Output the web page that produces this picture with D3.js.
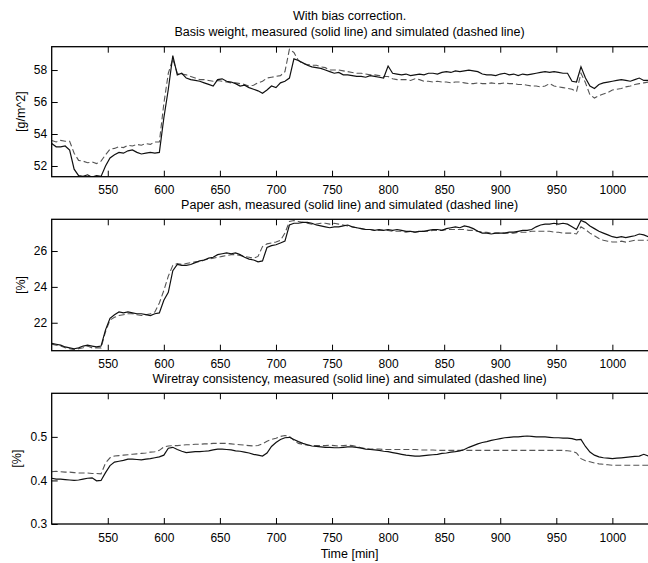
<!DOCTYPE html>
<html>
<head>
<meta charset="utf-8">
<script src="https://cdn.jsdelivr.net/npm/d3@7"></script>
<style>
  body { margin: 0; background: #fff; }
  text { font-family: "Liberation Sans", Arial, sans-serif; fill: #000; }
</style>
</head>
<body>
<div id="chart"></div>
<script>
// sample times [min], one every 4 minutes
const sampleTimes = d3.range(500, 1033, 4)
const xTicks = [550, 600, 650, 700, 750, 800, 850, 900, 950, 1000]

// basis weight [g/m^2]
const weightMeasured = [
  53.4, 53.2, 53.2, 53.25, 53.0, 51.8, 51.4, 51.35, 51.45, 51.3,
  51.4, 51.35, 52.0, 52.5, 52.7, 52.85, 52.8, 52.95, 53.0, 52.85,
  52.75, 52.8, 52.85, 52.8, 52.85, 55.0, 56.8, 58.9, 57.7, 57.8,
  57.5, 57.4, 57.35, 57.3, 57.2, 57.1, 57.0, 57.4, 57.45, 57.3,
  57.25, 57.15, 57.0, 57.05, 56.9, 56.8, 56.7, 56.55, 56.75, 57.0,
  56.9, 57.2, 57.3, 57.5, 58.7, 58.6, 58.45, 58.3, 58.2, 58.15,
  58.1, 58.0, 57.9, 57.8, 57.85, 57.7, 57.7, 57.65, 57.6, 57.6,
  57.55, 57.65, 57.6, 57.55, 57.5, 58.25, 57.8, 57.75, 57.7, 57.75,
  57.65, 57.7, 57.75, 57.7, 57.8, 57.8, 57.75, 57.85, 57.9, 57.85,
  57.95, 57.9, 57.95, 58.0, 57.95, 57.9, 57.75, 57.7, 57.7, 57.65,
  57.75, 57.8, 57.7, 57.75, 57.65, 57.75, 57.7, 57.75, 57.8, 57.85,
  57.9, 57.85, 57.9, 57.85, 57.8, 57.8, 57.3, 57.25, 58.2, 57.5,
  57.0, 56.85, 57.1, 57.2, 57.25, 57.3, 57.35, 57.4, 57.35, 57.3,
  57.4, 57.5, 57.35, 57.35
]
const weightSimulated = [
  53.6, 53.5, 53.6, 53.55, 53.55, 52.8, 52.35, 52.3, 52.2, 52.25,
  52.15, 52.3, 52.7, 53.05, 53.1, 53.2, 53.15, 53.3, 53.25, 53.35,
  53.3, 53.4, 53.35, 53.5, 53.5, 55.9, 57.8, 58.7, 57.8, 57.75,
  57.7, 57.6, 57.5, 57.4, 57.4, 57.35, 57.3, 57.35, 57.3, 57.25,
  57.2, 57.2, 57.15, 57.1, 57.0, 57.05, 57.2, 57.3, 57.5, 57.55,
  57.6, 57.65, 57.9, 59.3, 59.1, 58.6, 58.4, 58.35, 58.3, 58.3,
  58.2, 58.15, 58.0, 58.0, 58.0, 57.95, 57.9, 57.85, 57.8, 57.8,
  57.75, 57.7, 57.7, 57.65, 57.6, 57.6, 57.45, 57.4, 57.4, 57.4,
  57.35, 57.45, 57.4, 57.3, 57.3, 57.25, 57.3, 57.25, 57.25, 57.2,
  57.25, 57.25, 57.2, 57.15, 57.15, 57.2, 57.15, 57.15, 57.2, 57.15,
  57.15, 57.2, 57.15, 57.15, 57.1, 57.1, 57.05, 57.0, 57.0, 56.95,
  57.0, 57.15, 57.0, 56.95, 56.9, 56.85, 56.8, 56.65, 57.8, 57.2,
  56.45, 56.25, 56.4, 56.5, 56.6, 56.75, 56.8, 56.85, 56.95, 57.0,
  57.1, 57.15, 57.2, 57.25
]

// paper ash [%]
const ashMeasured = [
  20.85, 20.8, 20.75, 20.65, 20.6, 20.55, 20.6, 20.7, 20.75, 20.7,
  20.65, 20.7, 21.6, 22.25, 22.45, 22.6, 22.55, 22.6, 22.55, 22.5,
  22.5, 22.45, 22.4, 22.5, 22.55, 23.25, 23.7, 24.9, 25.25, 25.2,
  25.2, 25.25, 25.35, 25.45, 25.5, 25.6, 25.65, 25.8, 25.85, 25.9,
  25.85, 25.9, 25.8, 25.65, 25.55, 25.5, 25.4, 25.45, 26.2, 26.3,
  26.35, 26.45, 26.55, 27.45, 27.55, 27.55, 27.6, 27.6, 27.55, 27.45,
  27.4, 27.35, 27.3, 27.35, 27.35, 27.4, 27.45, 27.35, 27.3, 27.25,
  27.2, 27.2, 27.15, 27.2, 27.15, 27.2, 27.15, 27.2, 27.15, 27.1,
  27.1, 27.05, 27.1, 27.1, 27.15, 27.2, 27.2, 27.15, 27.25, 27.3,
  27.35, 27.3, 27.4, 27.35, 27.25, 27.1, 27.0, 27.0, 26.95, 27.0,
  27.0, 27.0, 27.05, 27.05, 27.1, 27.15, 27.15, 27.2, 27.35, 27.45,
  27.5, 27.5, 27.55, 27.5, 27.55, 27.5, 27.35, 27.2, 27.7, 27.6,
  27.4, 27.25, 27.1, 27.0, 26.9, 26.8, 26.75, 26.8, 26.75, 26.8,
  26.85, 26.95, 26.9, 26.8
]
const ashSimulated = [
  20.8, 20.75, 20.7, 20.6, 20.55, 20.5, 20.55, 20.6, 20.7, 20.6,
  20.6, 20.6, 21.5, 22.15, 22.3, 22.4, 22.45, 22.5, 22.5, 22.45,
  22.4, 22.45, 22.5, 22.6, 23.1, 23.8, 24.6, 25.2, 25.3, 25.25,
  25.3, 25.35, 25.4, 25.4, 25.5, 25.55, 25.6, 25.65, 25.7, 25.75,
  25.8, 25.8, 25.75, 25.7, 25.65, 25.6, 25.7, 26.25, 26.4, 26.45,
  26.5, 26.6, 27.0, 27.65, 27.7, 27.65, 27.6, 27.55, 27.5, 27.5,
  27.55, 27.55, 27.5, 27.55, 27.5, 27.45, 27.4, 27.35, 27.3, 27.25,
  27.2, 27.2, 27.15, 27.15, 27.15, 27.15, 27.1, 27.1, 27.1, 27.05,
  27.1, 27.05, 27.1, 27.1, 27.1, 27.15, 27.15, 27.15, 27.2, 27.2,
  27.2, 27.2, 27.2, 27.15, 27.15, 27.1, 27.05, 27.05, 27.0, 27.0,
  27.0, 27.0, 27.0, 27.0, 27.05, 27.05, 27.05, 27.1, 27.1, 27.1,
  27.1, 27.1, 27.05, 27.05, 27.0, 27.0, 27.0, 26.95, 27.35, 27.2,
  27.0, 26.85, 26.7, 26.6, 26.55, 26.5, 26.5, 26.55, 26.5, 26.55,
  26.6, 26.6, 26.6, 26.6
]

// wiretray consistency [%]
const consMeasured = [
  .405, .403, .403, .402, .401, .400, .401, .403, .405, .406,
  .399, .400, .418, .434, .442, .444, .446, .449, .449, .448,
  .447, .449, .450, .452, .454, .458, .474, .476, .471, .467,
  .464, .465, .466, .466, .467, .468, .470, .472, .472, .471,
  .470, .468, .467, .465, .463, .460, .458, .456, .463, .478,
  .487, .494, .498, .499, .494, .489, .485, .482, .479, .478,
  .477, .476, .476, .475, .475, .476, .477, .477, .476, .474,
  .472, .471, .470, .469, .467, .466, .464, .462, .460, .458,
  .457, .456, .456, .457, .458, .459, .460, .462, .463, .465,
  .466, .468, .471, .476, .480, .484, .487, .489, .492, .494,
  .496, .498, .499, .500, .500, .501, .502, .501, .500, .500,
  .500, .499, .498, .498, .497, .497, .496, .493, .494, .478,
  .465, .458, .454, .452, .451, .450, .451, .452, .453, .454,
  .455, .456, .460, .456
]
const consSimulated = [
  .420, .421, .420, .419, .419, .418, .417, .417, .417, .416,
  .416, .415, .440, .452, .456, .457, .458, .459, .460, .461,
  .462, .463, .465, .466, .469, .477, .479, .480, .480, .481,
  .482, .482, .483, .483, .484, .484, .485, .485, .485, .485,
  .484, .483, .482, .481, .480, .479, .480, .484, .490, .494,
  .497, .501, .503, .501, .492, .485, .483, .481, .480, .480,
  .480, .480, .481, .480, .479, .480, .481, .480, .478, .475,
  .473, .472, .472, .472, .471, .471, .471, .471, .471, .471,
  .471, .471, .470, .470, .470, .470, .469, .469, .469, .469,
  .469, .469, .469, .469, .469, .469, .469, .469, .469, .469,
  .469, .469, .469, .469, .469, .469, .469, .469, .469, .469,
  .469, .469, .469, .469, .469, .468, .467, .463, .450, .445,
  .443, .440, .438, .437, .436, .435, .435, .435, .435, .435,
  .435, .435, .435, .435
]

// y axis settings per panel
const weightTicks = [52, 54, 56, 58]
const ashTicks = [22, 24, 26]
const consTicks = [0.3, 0.4, 0.5]

const WIDTH = 648
const HEIGHT = 563
const LEFT = 51.7
const RIGHT = 650.5   // axes run past the picture edge, so no right frame

const svg = d3.select("#chart").append("svg")
  .attr("width", WIDTH)
  .attr("height", HEIGHT)

const x = d3.scaleLinear().domain([500, 1034]).range([LEFT, RIGHT])
const midX = (LEFT + RIGHT) / 2 - 1.5

// top title line
svg.append("text")
  .attr("x", midX).attr("y", 19.5)
  .attr("text-anchor", "middle")
  .attr("font-size", "12.5px")
  .text("With bias correction.")

function drawPanel(id, top, bottom, domain, ticks, fmt, title, ylabel, ylabelX, measured, simulated) {
  const y = d3.scaleLinear().domain(domain).range([bottom, top])
  const g = svg.append("g")

  g.append("clipPath").attr("id", "clip-" + id)
    .append("rect")
    .attr("x", LEFT).attr("y", top)
    .attr("width", RIGHT - LEFT).attr("height", bottom - top)

  // title
  g.append("text")
    .attr("x", midX).attr("y", top - 10.5)
    .attr("text-anchor", "middle")
    .attr("font-size", "12.5px")
    .text(title)

  // y label
  g.append("text")
    .attr("transform", `translate(${ylabelX},${(top + bottom) / 2}) rotate(-90)`)
    .attr("text-anchor", "middle")
    .attr("font-size", "12.5px")
    .text(ylabel)

  // lines
  const line = d3.line()
    .x((d, i) => x(sampleTimes[i]))
    .y(d => y(d))

  const lines = g.append("g").attr("clip-path", `url(#clip-${id})`)
  lines.append("path")
    .datum(simulated)
    .attr("fill", "none")
    .attr("stroke", "#555")
    .attr("stroke-width", 1.1)
    .attr("stroke-dasharray", "6,3")
    .attr("d", line)
  lines.append("path")
    .datum(measured)
    .attr("fill", "none")
    .attr("stroke", "#111")
    .attr("stroke-width", 1.2)
    .attr("d", line)

  // axes, ticks pointing inward
  const xAxisBottom = d3.axisBottom(x).tickValues(xTicks).tickFormat(d3.format("d"))
    .tickSizeInner(-6).tickSizeOuter(0).tickPadding(9)
  const xAxisTop = d3.axisTop(x).tickValues(xTicks)
    .tickSizeInner(-6).tickSizeOuter(0).tickFormat("")
  const yAxis = d3.axisLeft(y).tickValues(ticks).tickFormat(fmt)
    .tickSizeInner(-6).tickSizeOuter(0).tickPadding(4.5)

  const xb = g.append("g").attr("transform", `translate(0,${bottom})`).call(xAxisBottom)
  const xt = g.append("g").attr("transform", `translate(0,${top})`).call(xAxisTop)
  const ya = g.append("g").attr("transform", `translate(${LEFT},0)`).call(yAxis)

  for (const a of [xb, xt, ya]) {
    a.select(".domain").remove()
    a.selectAll("line").attr("stroke", "#000").attr("stroke-width", 1)
    a.selectAll("text")
      .attr("font-family", "\"Liberation Sans\", Arial, sans-serif")
      .attr("font-size", "12px")
      .attr("fill", "#000")
  }

  // frame
  g.append("rect")
    .attr("x", LEFT).attr("y", top)
    .attr("width", RIGHT - LEFT).attr("height", bottom - top)
    .attr("fill", "none")
    .attr("stroke", "#000")
    .attr("stroke-width", 1.3)
}

drawPanel("w", 46.7, 176.7, [51.33, 59.46], weightTicks, d3.format("d"),
  "Basis weight, measured (solid line) and simulated (dashed line)",
  "[g/m^2]", 24.5, weightMeasured, weightSimulated)

drawPanel("a", 219.3, 350.7, [20.44, 27.77], ashTicks, d3.format("d"),
  "Paper ash, measured (solid line) and simulated (dashed line)",
  "[%]", 24.5, ashMeasured, ashSimulated)

drawPanel("c", 393.3, 524, [0.3, 0.6], consTicks, d3.format(".1f"),
  "Wiretray consistency, measured (solid line) and simulated (dashed line)",
  "[%]", 21, consMeasured, consSimulated)

// x axis label
svg.append("text")
  .attr("x", midX).attr("y", 557.5)
  .attr("text-anchor", "middle")
  .attr("font-size", "12.5px")
  .text("Time [min]")
</script>
</body>
</html>
